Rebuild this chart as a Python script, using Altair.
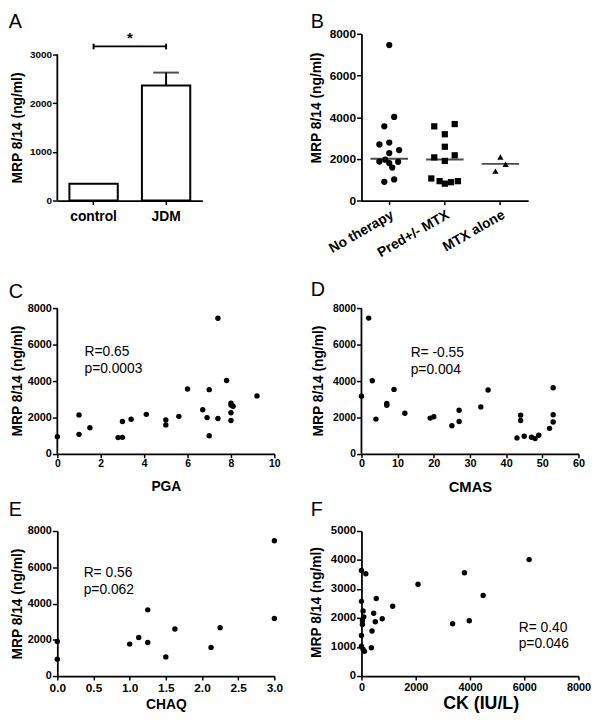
import altair as alt
import pandas as pd

FONT = "Liberation Sans"
YTITLE = "MRP 8/14 (ng/ml)"

# ---------------- Panel A : bar chart ----------------
a_groups = ["control", "JDM"]
a_means = [345, 2365]
a_err_group = ["JDM"]
a_err_low = [2365]
a_err_high = [2629]
a_sig_level = 3168
a_sig_cap = [3107, 3223]
a_star_level = 3245
a_axis_top = 3000
a_ticks = [0, 1000, 2000, 3000]

# ---------------- Panel B : dot plot by therapy ----------------
b_groups = ["No therapy", "Pred+/- MTX", "MTX alone"]
b_no_therapy = [7460, 4010, 3560, 2690, 2780, 2420, 2280, 1870, 1960, 1800, 1860, 1580, 900, 1010]
b_no_therapy_jit = [0, 5, -5, -10, 0, 10, 0, -10, -4, 0, 9, 3, -5, 5]
b_pred = [3670, 3560, 3180, 2580, 2170, 2070, 1900, 1060, 930, 810, 880, 930]
b_pred_jit = [10, -10.7, 0, 0, 10, -10.7, 0, -13.7, -5.3, 0, 6.3, 13.3]
b_mtx = [2090, 1740, 1410]
b_mtx_jit = [0, 5.3, -5]
b_medians = [2000, 1965, 1760]
b_ticks = [0, 2000, 4000, 6000, 8000]

# ---------------- Panel C : PGA ----------------
pga_x = [0, 1, 1, 1.5, 2.8, 3, 3, 3.4, 4.1, 5, 5, 5.6, 6, 6.7, 6.9, 7, 7, 7.4, 7.4, 7.8, 8, 8, 8, 8, 8.1, 9.2]
pga_y = [940, 2140, 1070, 1430, 890, 905, 1775, 1900, 2170, 1865, 1590, 2060, 3565, 2425, 1990, 3530, 995,
         7460, 1940, 4035, 2790, 2680, 2260, 1830, 2620, 3185]
pga_note = "R=0.65\np=0.0003"
pga_note_pos = [1.25, 5377]

# ---------------- Panel D : CMAS ----------------
cmas_x = [0, 2, 3, 4, 7, 7, 9, 12, 19, 20, 25, 27, 27, 33, 35, 43, 44, 44, 45, 47, 48, 49, 52, 53, 53, 53]
cmas_y = [3165, 7470, 4020, 1910, 2765, 2675, 3545, 2235, 1965, 2035, 1545, 2400, 1780, 2580, 3510, 875,
          2125, 1835, 965, 910, 835, 1020, 1400, 3635, 2145, 1745]
cmas_note = "R= -0.55\np=0.004"
cmas_note_pos = [13.6, 5326]

# ---------------- Panel E : CHAQ ----------------
chaq_x = [0, 0, 1.0, 1.125, 1.25, 1.25, 1.5, 1.625, 2.125, 2.25, 3.0, 3.0]
chaq_y = [1905, 925, 1760, 2125, 3650, 1850, 1055, 2595, 1580, 2670, 7460, 3175]
chaq_note = "R= 0.56\np=0.062"
chaq_note_pos = [0.364, 5442]

# ---------------- Panel F : CK ----------------
ck_x = [0, 160, 0, 60, 85, 35, 35, 0, 0, 60, 110, 365, 390, 450, 510, 545, 765, 1150, 2085, 3360, 3795,
        3975, 4485, 6180]
ck_y = [3640, 3525, 2575, 2245, 2040, 1905, 1780, 1395, 1030, 920, 850, 975, 1555, 2165, 1870, 2675, 1975,
        2405, 3165, 1805, 3560, 1905, 2780, 4015]
ck_note = "R= 0.40\np=0.046"
ck_note_pos = [5796, 1531]

# ---------------- layout sizes ----------------
W_A, W_B, W = 147, 169, 220
H1, H2, H3 = 169, 178.7, 147
A_TOP = 3000 * H1 / 148
C_TOP = 8000 * H2 / 147.3
LEFT = 58          # x of left-column plots on the page
RIGHT_COL = 366.3  # x of right-column plots on the page
A_BAR = 49


def y_axis(tx, ty, lsize, values, **kw):
    return alt.Axis(title=YTITLE, titleX=tx, titleY=ty, titleAngle=270, titleAlign="center",
                    titleBaseline="bottom", titleFontSize=14, values=values, labelFontSize=lsize,
                    tickSize=5, labelPadding=1, labelFlush=False, labelOverlap=False, format="d", **kw)


def x_axis(title, tsize, tx, ty, lsize, values, pad, fmt="d"):
    return alt.Axis(title=title, titleFontSize=tsize, titleX=tx, titleY=ty, titleBaseline="top",
                    titleAlign="center", values=values, labelFontSize=lsize, tickSize=4,
                    labelPadding=pad, labelFlush=False, labelOverlap=False, labelAngle=0, format=fmt)


def letter(ch, dx, dy):
    return alt.Chart(pd.DataFrame({"t": [ch]})).mark_text(
        align="left", baseline="alphabetic", fontSize=20, font=FONT, fontWeight="normal", color="black"
    ).encode(text="t:N", x=alt.value(dx), y=alt.value(dy))


LDX = 8.8 - LEFT
RDX = 315 - RIGHT_COL
LTX = 24.5 - LEFT

# ================= Panel A =================
a_df = pd.DataFrame({"group": a_groups, "value": a_means})
a_err_df = pd.DataFrame({"group": a_err_group, "value": a_err_low, "value2": a_err_high})
a_cap_df = pd.DataFrame({"group": a_err_group, "value": a_err_high})
a_sig_df = pd.DataFrame({"group": a_groups, "value": [a_sig_level] * 2})
a_sigcap_df = pd.DataFrame({"group": a_groups, "value": [a_sig_cap[0]] * 2, "value2": [a_sig_cap[1]] * 2})
a_star_df = pd.DataFrame({"t": ["*"], "value": [a_star_level]})
a_axis_df = pd.DataFrame({"value": [0], "value2": [a_axis_top]})

xA = alt.X("group:N", sort=a_groups,
           scale=alt.Scale(type="band", domain=a_groups, paddingInner=0.3333, paddingOuter=0.1667),
           axis=alt.Axis(title=None, labelAngle=0, labelFontSize=14, tickSize=4, labelPadding=5))
yA = alt.Y("value:Q", scale=alt.Scale(domain=[0, A_TOP], nice=False, zero=True),
           axis=y_axis(LTX, 94.9, 10, a_ticks, domain=False))

pA = alt.layer(
    alt.Chart(a_df).mark_bar(fill="white", stroke="black", strokeWidth=2, size=A_BAR).encode(x=xA, y=yA),
    alt.Chart(a_err_df).mark_rule(color="black", strokeWidth=2).encode(x=xA, y=yA, y2="value2:Q"),
    alt.Chart(a_cap_df).mark_tick(color="black", thickness=2, size=26).encode(x=xA, y=yA),
    alt.Chart(a_sig_df).mark_line(color="black", strokeWidth=2).encode(x=xA, y=yA),
    alt.Chart(a_sigcap_df).mark_rule(color="black", strokeWidth=2).encode(x=xA, y=yA, y2="value2:Q"),
    alt.Chart(a_star_df).mark_text(font=FONT, fontSize=15, fontWeight="bold", baseline="alphabetic",
                                   color="black").encode(x=alt.value(W_A / 2), y=yA, text="t:N"),
    alt.Chart(a_axis_df).mark_rule(color="black", strokeWidth=1.8).encode(x=alt.value(0), y=yA, y2="value2:Q"),
    letter("A", LDX, -5.8),
).properties(width=W_A, height=H1)

# ================= Panel B =================
b_df = pd.DataFrame({
    "group": [b_groups[0]] * len(b_no_therapy) + [b_groups[1]] * len(b_pred) + [b_groups[2]] * len(b_mtx),
    "value": b_no_therapy + b_pred + b_mtx,
    "jitter": b_no_therapy_jit + b_pred_jit + b_mtx_jit,
})
b_med_df = pd.DataFrame({"group": b_groups, "value": b_medians})
xB = alt.X("group:N", sort=b_groups,
           scale=alt.Scale(type="band", domain=b_groups, paddingInner=0, paddingOuter=0),
           axis=alt.Axis(title=None, labelAngle=330, labelFontSize=14, tickSize=4, labelPadding=3))
yB = alt.Y("value:Q", scale=alt.Scale(domain=[0, 8000], nice=False),
           axis=y_axis(-38.3, 74.7, 12, b_ticks))
bw = W_B / 3

pB = alt.layer(
    alt.Chart(b_df).mark_point(filled=True, size=40, color="black", opacity=1).encode(
        x=xB, y=yB,
        xOffset=alt.XOffset("jitter:Q", scale=alt.Scale(domain=[-bw / 2, bw / 2], range=[0, bw])),
        shape=alt.Shape("group:N", scale=alt.Scale(domain=b_groups, range=["circle", "square", "triangle-up"]),
                        legend=None)),
    alt.Chart(b_med_df).mark_tick(color="black", thickness=2, size=38).encode(x=xB, y=yB),
    letter("B", RDX, -5.8),
).properties(width=W_B, height=H1)


# ================= Scatter panels =================
def scatter(xs, ys, xdom, ydom, xaxis, yaxis, note, note_pos, let, let_dx, let_dy, w, h, axis_top=None):
    df = pd.DataFrame({"x": xs, "y": ys})
    X = alt.X("x:Q", scale=alt.Scale(domain=xdom, nice=False, zero=False), axis=xaxis)
    Y = alt.Y("y:Q", scale=alt.Scale(domain=ydom, nice=False, zero=True), axis=yaxis)
    layers = [
        alt.Chart(df).mark_circle(size=30, color="black", opacity=1).encode(x=X, y=Y),
        alt.Chart(pd.DataFrame({"x": [note_pos[0]], "y": [note_pos[1]], "t": [note]})).mark_text(
            align="left", baseline="alphabetic", font=FONT, fontSize=14, lineBreak="\n", lineHeight=17,
            color="black").encode(x=X, y=Y, text="t:N"),
        letter(let, let_dx, let_dy),
    ]
    if axis_top is not None:
        layers.append(alt.Chart(pd.DataFrame({"y": [0], "y2": [axis_top]})).mark_rule(
            color="black", strokeWidth=1.8).encode(x=alt.value(0), y=Y, y2="y2:Q"))
    return alt.layer(*layers).properties(width=w, height=h)


pC = scatter(pga_x, pga_y, [0, 10], [0, C_TOP],
             x_axis("PGA", 14, 110, 26, 10.5, [0, 2, 4, 6, 8, 10], 1),
             y_axis(LTX, 104.5, 11, b_ticks, domain=False),
             pga_note, pga_note_pos, "C", LDX, 20.4, W, H2, axis_top=8000)
pD = scatter(cmas_x, cmas_y, [0, 60], [0, C_TOP],
             x_axis("CMAS", 15, 110, 26, 11, [0, 10, 20, 30, 40, 50, 60], 0),
             y_axis(-36.7, 104.5, 10.5, b_ticks, domain=False),
             cmas_note, cmas_note_pos, "D", RDX, 18.7, W, H2, axis_top=8000)
pE = scatter(chaq_x, chaq_y, [0, 3], [0, 8000],
             x_axis("CHAQ", 14, 110, 22.3, 12, [0, 0.5, 1, 1.5, 2, 2.5, 3], 3, ".1f"),
             y_axis(LTX, 73.6, 11, b_ticks),
             chaq_note, chaq_note_pos, "E", LDX, -15, W, H3)
pF = scatter(ck_x, ck_y, [0, 8000], [0, 5000],
             x_axis("CK (IU/L)", 18, 120.8, 19, 11, [0, 2000, 4000, 6000, 8000], 2),
             y_axis(-38.3, 72, 11.5, [0, 1000, 2000, 3000, 4000, 5000]),
             ck_note, ck_note_pos, "F", RDX, -15, W, H3)

chart = alt.concat(
    pA, pB, pC, pD, pE, pF, columns=2,
    spacing={"row": 78, "column": RIGHT_COL - LEFT - W}, bounds="flush", align="each"
).properties(
    autosize=alt.AutoSizeParams(type="none"),
    padding={"left": LEFT - 8, "top": 21.3, "right": 592 - (LEFT - 8), "bottom": 690.7},
).configure_axis(
    domainColor="black", domainWidth=1.8, tickColor="black", tickWidth=1.5, labelColor="black",
    labelFont=FONT, labelFontWeight="bold", titleFont=FONT, titleFontWeight="bold", titleColor="black",
    grid=False,
).configure_view(stroke=None)

chart.save("out.html", embed_options={"renderer": "svg", "actions": False})
